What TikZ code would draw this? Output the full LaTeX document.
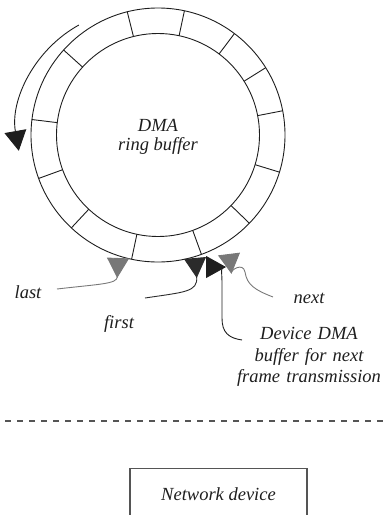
\documentclass[tikz,border=0pt]{standalone}
\usepackage{fontspec}
\setmainfont{Liberation Serif}
\usepackage{tikz}
\usetikzlibrary{arrows.meta,positioning,calc}
\definecolor{ink}{HTML}{1E1E1E}
\definecolor{ptrdark}{HTML}{2B2B2B}
\definecolor{ptrgrey}{HTML}{787878}
\definecolor{rulegrey}{HTML}{555555}
\tikzset{
  ring/.style={draw=ink,line width=.9pt},
  lbl/.style={font=\itshape\fontsize{18.5}{19}\selectfont,text=ink,inner sep=0pt,align=center},
  ptr/.style={line width=.9pt,-{Triangle[reversed,length=20pt,width=22pt]}},
  wrap/.style={draw=ink,line width=.9pt,-{Triangle[length=20pt,width=22pt]}},
  devbox/.style={draw=rulegrey,line width=1.2pt,inner xsep=0pt,inner ysep=19pt,
    minimum width=177pt,font=\itshape\fontsize{18.5}{19}\selectfont,text=ink},
}

\begin{document}
\begin{tikzpicture}[x=1pt,y=-1pt]
  \useasboundingbox (0,0) rectangle (383,515);
  \clip (0,0) rectangle (383,515);

  % ring buffer
  \coordinate (c) at (158,135);
  \draw[ring] (c) circle[radius=127];
  \draw[ring] (c) circle[radius=101.5];
  \foreach \a in {-104,-78,-53,-32,-11,17,44,70,102,133,160,-173,-138}
    \draw[ring] ($(c)+(\a:101.5)$) -- ($(c)+(\a:127)$);
  \node[lbl] (dma) at (158,137) {DMA\\ring buffer};

  % direction of travel
  \coordinate (wrapc) at (137,130);
  \draw[wrap] ($(wrapc)+(-119:120)$) arc[start angle=-119,end angle=-190,radius=120];

  % slots pointed at
  \coordinate (slotlast) at (118,258);
  \coordinate (slotfirst) at (195,258);
  \coordinate (slotdev) at (206,267);
  \coordinate (slotnext) at (229,254);

  \node[lbl,anchor=base] (last) at (28,298) {last};
  \node[lbl,anchor=base] (first) at (119,328) {first};
  \node[lbl,anchor=base] (next) at (309,303) {next};
  \node[lbl,text width=150pt,font=\itshape\fontsize{18.5}{21.3}\selectfont] (devbuf) at (309,357)
    {Device DMA\\buffer for next\\frame transmission};

  \coordinate (lasttail) at (57,289);
  \coordinate (firsttail) at (145,298);
  \coordinate (nexttail) at (273,297);
  \coordinate (devtail) at (242,340);

  \draw[ptr,ptrgrey] (lasttail) .. controls (100,284) and (117,284) .. (slotlast);
  \draw[ptr,ptrdark] (firsttail) .. controls (185,292) and (198,292) .. (slotfirst);
  \draw[ptr,ptrgrey] (nexttail) .. controls (255,290) and (247,285) .. (245,272)
    .. controls (243,262) and (231,270) .. (slotnext);
  \draw[ptr,ink] (devtail) .. controls (228,338) and (222,332) .. (222,318) -- (222,283)
    .. controls (222,271) and (220,267) .. (slotdev);

  % device side
  \draw[rulegrey,line width=1.2pt,dash pattern=on 6pt off 6pt] (5,421) -- (383,421);
  \node[devbox,anchor=north] (netdev) at (218.5,468) {Network device};
\end{tikzpicture}
\end{document}
